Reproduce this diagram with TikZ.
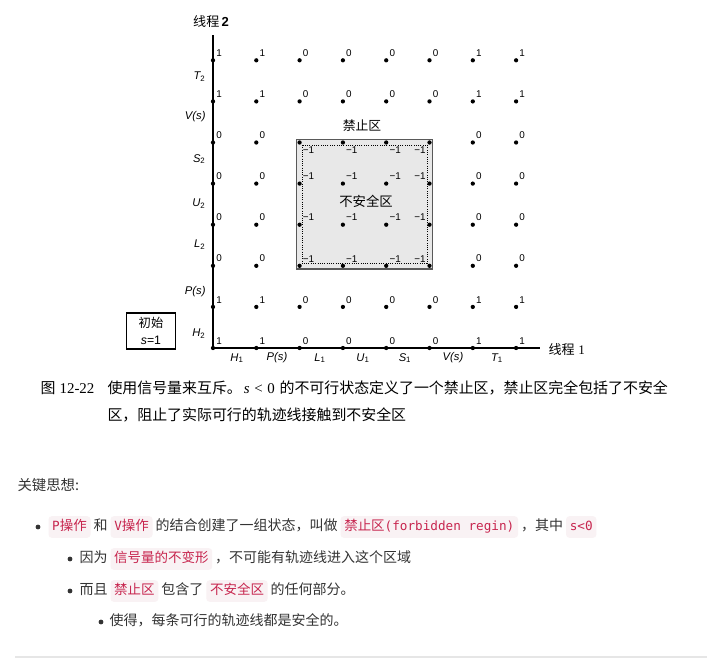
\documentclass[tikz,border=0pt]{standalone}
\usepackage{fontspec}
\setmainfont{Liberation Sans}
\newfontfamily\cjk{Noto Sans CJK SC}
\newfontfamily\mono{DejaVu Sans Mono}
\newfontfamily\serifcap{Liberation Serif}
\usetikzlibrary{positioning,backgrounds}
\definecolor{codefg}{HTML}{C7254E}
\definecolor{codebg}{HTML}{F9F2F4}
\definecolor{bodyfg}{HTML}{333333}
\definecolor{rulegray}{HTML}{E6E6E6}
\definecolor{zonegray}{HTML}{E8E8E8}
\newcommand{\colstep}{43.3}
\newcommand{\rowstep}{41.1}
\newcommand{\codelat}[1]{{\mono\fontsize{9.5}{12}\selectfont #1}}
\tikzset{every picture/.style={line width=0.75pt}}
\tikzset{
  statedot/.style={circle, fill=black, inner sep=0pt, minimum size=3.2pt},
  numlab/.style={font=\fontsize{7.4}{8}\selectfont, inner sep=0.6pt},
  axislab/.style={font=\fontsize{8.4}{10}\selectfont\itshape, inner sep=0pt},
  axistitle/.style={font=\fontsize{9.8}{12}\selectfont, inner sep=0pt},
  axis/.style={line width=1.1pt},
  zoneedge/.style={draw=black!65, line width=1.3pt},
  zoneinner/.style={draw=black, densely dotted, line width=0.7pt},
  zonelab/.style={font=\cjk\fontsize{9.6}{11}\selectfont, inner sep=0pt},
  initbox/.style={draw, line width=0.8pt, align=center, minimum width=36.75pt, minimum height=27pt, inner sep=0pt, font=\fontsize{9.2}{12.75}\selectfont},
  capnode/.style={inner sep=0pt, font=\fontsize{11.2}{13}\selectfont},
  mdtext/.style={text=bodyfg, inner xsep=1.5pt, inner ysep=3pt, text height=8pt, text depth=2.2pt, font=\cjk\fontsize{10.5}{12}\selectfont},
  mdcode/.style={mdtext, fill=codebg, text=codefg, rounded corners=2.5pt, inner xsep=2.8pt, font=\cjk\fontsize{10.1}{12}\selectfont},
  bullet/.style={circle, fill=bodyfg, inner sep=0pt, minimum size=3.6pt},
  hrule/.style={draw=rulegray, line width=1.2pt}
}

\begin{document}
\begin{tikzpicture}[x=0.75pt,y=0.75pt,yscale=-1,xscale=1]
\useasboundingbox (0,0) rectangle (707,658);
\begin{scope}[on background layer]
  \fill[white] (0,0) rectangle (707,658);
\end{scope}

%Axes
\coordinate (origin) at (213,348);
\coordinate (ytop) at (213,35);
\coordinate (xright) at (540,348);
\draw[axis] (ytop) -- (origin) -- (xright);

% Text Node: axis titles
\node[axistitle] (thread2) at (211,22) {{\cjk 线程}\,{\bfseries 2}};
\node[axistitle, anchor=west] (thread1) at (548,349) {{\cjk 线程} {\serifcap 1}};

%States with value of s
\foreach \i in {0,...,7}{
  \foreach \j in {0,...,7}{
    \pgfmathtruncatemacro\inI{(\i>1)&&(\i<6)}
    \pgfmathtruncatemacro\inJ{(\j>1)&&(\j<6)}
    \pgfmathtruncatemacro\sval{1-\inI-\inJ}
    \pgfmathtruncatemacro\hflip{(\i==5)&&(\inJ==1)}
    \pgfmathtruncatemacro\vflip{(\j==5)&&(\inI==1)}
    \ifnum\hflip=1 \def\ha{east}\def\hs{-2.5}\else\def\ha{west}\def\hs{2}\fi
    \ifnum\vflip=1 \def\va{north}\def\vs{2.5}\else\def\va{south}\def\vs{-2.5}\fi
    \ifnum\sval<0 \def\numtxt{−1}\else\edef\numtxt{\sval}\fi
    \edef\lanc{\va\space\ha}
    \node[statedot] (p\i\j) at (213+\i*\colstep, 348-\j*\rowstep) {};
    \node[numlab, anchor=\lanc] (v\i\j) at ([shift={(\hs,\vs)}]p\i\j.center) {\numtxt};
  }
}

%Shape: forbidden zone
\begin{scope}[on background layer]
  \fill[zonegray] ([shift={(-3,-3)}]p25.center) rectangle ([shift={(3,3)}]p52.center);
  \draw[zoneedge] ([shift={(-3,-3)}]p25.center) rectangle ([shift={(3,3)}]p52.center);
  \draw[zoneinner] ([shift={(2.5,2.5)}]p25.center) rectangle ([shift={(-2.5,-2.5)}]p52.center);
\end{scope}
\node[zonelab] (forbid) at (362,126) {禁止区};
\node[zonelab, font=\cjk\fontsize{10}{12}\selectfont] (unsafe) at (366,201) {不安全区};

% Text Node: instructions of the threads
\foreach \lab/\ly [count=\k] in {T\textsubscript{\upshape 2}/77, V(s)/117, S\textsubscript{\upshape 2}/159, U\textsubscript{\upshape 2}/204, L\textsubscript{\upshape 2}/245, P(s)/292, H\textsubscript{\upshape 2}/334}
  \node[axislab, anchor=east] (ylab\k) at (206,\ly) {\lab};
\foreach \lab/\lx [count=\k] in {H\textsubscript{\upshape 1}/237, P(s)/277, L\textsubscript{\upshape 1}/320, U\textsubscript{\upshape 1}/363, S\textsubscript{\upshape 1}/405, V(s)/453, T\textsubscript{\upshape 1}/497}
  \node[axislab] (xlab\k) at (\lx,358) {\lab};

% Text Node: initial state
\node[initbox] (init) at (151,331) {{\cjk 初始}\\\textit{s}=1};

% Text Node: caption
\node[capnode, anchor=base west] (figno) at (40,393) {{\cjk 图} {\serifcap 12-22}};
\node[capnode, anchor=base west] (capA) at (107,393) {{\cjk 使用信号量来互斥。}\hspace{1.5pt}{\serifcap\itshape s}\hspace{3.5pt}{\serifcap <}\hspace{3.5pt}{\serifcap 0}\hspace{3.5pt}{\cjk 的不可行状态定义了一个禁止区，禁止区完全包括了不安全}};
\node[capnode, anchor=base west] (capB) at (107,420) {{\cjk 区，阻止了实际可行的轨迹线接触到不安全区}};

% Text Node: notes
\node[mdtext, anchor=west, font=\cjk\fontsize{10.8}{13}\selectfont] (keyidea) at (15,487) {关键思想:};

\node[bullet] (b1) at (38,527) {};
\node[mdcode, anchor=west] (c1a) at (48,527) {\codelat{P}操作};
\node[mdtext, right=0pt of c1a] (t1a) {和};
\node[mdcode, right=0pt of t1a] (c1b) {\codelat{V}操作};
\node[mdtext, right=0pt of c1b] (t1b) {的结合创建了一组状态，叫做};
\node[mdcode, right=0pt of t1b] (c1c) {禁止区\codelat{(forbidden regin)}};
\node[mdtext, right=0pt of c1c] (t1c) {，其中};
\node[mdcode, right=0pt of t1c] (c1d) {\codelat{s<0}};

\node[bullet] (b2) at (70,559) {};
\node[mdtext, anchor=west] (t2a) at (77,559) {因为};
\node[mdcode, right=0pt of t2a] (c2a) {信号量的不变形};
\node[mdtext, right=0pt of c2a] (t2b) {，不可能有轨迹线进入这个区域};

\node[bullet] (b3) at (70,591) {};
\node[mdtext, anchor=west] (t3a) at (77,591) {而且};
\node[mdcode, right=0pt of t3a] (c3a) {禁止区};
\node[mdtext, right=0pt of c3a] (t3b) {包含了};
\node[mdcode, right=0pt of t3b] (c3b) {不安全区};
\node[mdtext, right=0pt of c3b] (t3c) {的任何部分。};

\node[bullet] (b4) at (101,622) {};
\node[mdtext, anchor=west] (t4a) at (107,622) {使得，每条可行的轨迹线都是安全的。};

%Straight Lines: rule
\coordinate (ruleL) at (15,657);
\coordinate (ruleR) at (707,657);
\draw[hrule] (ruleL) -- (ruleR);

\end{tikzpicture}
\end{document}
